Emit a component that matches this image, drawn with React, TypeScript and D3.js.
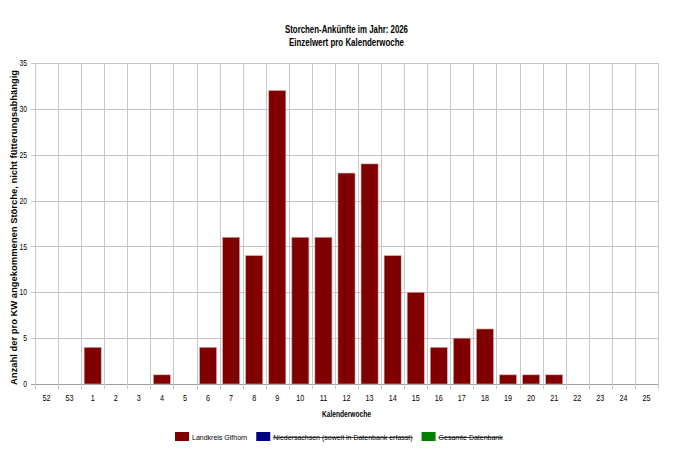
import React, { useEffect, useRef } from 'react';
import * as d3 from 'd3';

const weeks = ['52', '53', '1', '2', '3', '4', '5', '6', '7', '8', '9', '10', '11', '12', '13', '14', '15', '16', '17', '18', '19', '20', '21', '22', '23', '24', '25'];
const gifhorn = [0, 0, 4, 0, 0, 1, 0, 4, 16, 14, 32, 16, 16, 23, 24, 14, 10, 4, 5, 6, 1, 1, 1, 0, 0, 0, 0];
const yTicks = [0, 5, 10, 15, 20, 25, 30, 35];

const legendItems = [
  { label: 'Landkreis Gifhorn', color: '#800000', struck: false },
  { label: 'Niedersachsen (soweit in Datenbank erfasst)', color: '#000080', struck: true },
  { label: 'Gesamte Datenbank', color: '#008000', struck: true }
];

const WIDTH = 674;
const HEIGHT = 456;
const margin = { top: 63, right: 16, bottom: 72, left: 35 };

// the original font is a narrow one, so squeeze text horizontally
const squeeze = (sel: d3.Selection<SVGTextElement, any, any, any>, factor: number) => {
  sel.each(function () {
    const len = this.getComputedTextLength();
    d3.select(this).attr('textLength', len * factor).attr('lengthAdjust', 'spacingAndGlyphs');
  });
};

const App: React.FC = () => {
  const svgRef = useRef<SVGSVGElement>(null);

  useEffect(() => {
    if (!svgRef.current) return;
    const svg = d3.select(svgRef.current);
    svg.selectAll('*').remove();

    const font = '"Liberation Sans", Arial, sans-serif';
    const innerW = WIDTH - margin.left - margin.right;
    const innerH = HEIGHT - margin.top - margin.bottom;

    const x = d3.scaleBand<string>().domain(weeks).range([0, innerW]).paddingInner(0.26).paddingOuter(0.13);
    const y = d3.scaleLinear().domain([0, 35]).range([innerH, 0]);

    const g = svg.append('g').attr('transform', `translate(${margin.left},${margin.top})`);

    // horizontal grid
    g.selectAll('line.hgrid')
      .data(yTicks)
      .enter()
      .append('line')
      .attr('x1', -4)
      .attr('x2', innerW)
      .attr('y1', d => Math.round(y(d)) + 0.5)
      .attr('y2', d => Math.round(y(d)) + 0.5)
      .style('stroke', d => (d === 0 ? '#a0a0a0' : '#c4c4c4'))
      .style('stroke-width', 1);

    // vertical grid at band boundaries
    const bounds = d3.range(weeks.length + 1).map(i => i * innerW / weeks.length);
    g.selectAll('line.vgrid')
      .data(bounds)
      .enter()
      .append('line')
      .attr('x1', d => Math.round(d) + 0.5)
      .attr('x2', d => Math.round(d) + 0.5)
      .attr('y1', 0)
      .attr('y2', innerH + 5)
      .style('stroke', '#c8c8c8')
      .style('stroke-width', 1);

    // bars
    g.selectAll('rect.bar')
      .data(weeks.map((w, i) => ({ w, v: gifhorn[i] })).filter(d => d.v > 0))
      .enter()
      .append('rect')
      .attr('x', d => (x(d.w) || 0))
      .attr('y', d => y(d.v))
      .attr('width', x.bandwidth())
      .attr('height', d => innerH - y(d.v))
      .style('fill', '#800000')
      .style('stroke', '#d8b0b0')
      .style('stroke-width', 0.6);

    // y tick labels
    const yl = g.selectAll<SVGTextElement, number>('text.ytick')
      .data(yTicks)
      .enter()
      .append('text')
      .attr('x', -8)
      .attr('y', d => y(d))
      .attr('dy', '0.35em')
      .attr('text-anchor', 'end')
      .style('font-family', font)
      .style('font-size', '9px')
      .style('fill', '#000')
      .text(d => d);
    squeeze(yl, 0.75);

    // x tick labels
    const xl = g.selectAll<SVGTextElement, string>('text.xtick')
      .data(weeks)
      .enter()
      .append('text')
      .attr('x', d => (x(d) || 0) + x.bandwidth() / 2)
      .attr('y', innerH + 17)
      .attr('text-anchor', 'middle')
      .style('font-family', font)
      .style('font-size', '9px')
      .style('fill', '#000')
      .text(d => d);
    squeeze(xl, 0.8);

    // titles
    const cx = margin.left + innerW / 2;
    svg.append('text')
      .attr('x', cx).attr('y', 33)
      .attr('text-anchor', 'middle')
      .attr('textLength', 123).attr('lengthAdjust', 'spacingAndGlyphs')
      .style('font-family', font).style('font-size', '10px').style('font-weight', 'bold')
      .text('Storchen-Ankünfte im Jahr: 2026');
    svg.append('text')
      .attr('x', cx).attr('y', 46)
      .attr('text-anchor', 'middle')
      .attr('textLength', 115).attr('lengthAdjust', 'spacingAndGlyphs')
      .style('font-family', font).style('font-size', '10px').style('font-weight', 'bold')
      .text('Einzelwert pro Kalenderwoche');

    svg.append('text')
      .attr('x', cx).attr('y', 417)
      .attr('text-anchor', 'middle')
      .attr('textLength', 49).attr('lengthAdjust', 'spacingAndGlyphs')
      .style('font-family', font).style('font-size', '9px').style('font-weight', 'bold')
      .text('Kalenderwoche');

    svg.append('text')
      .attr('transform', 'translate(16.5,227.5) rotate(-90)')
      .attr('text-anchor', 'middle')
      .attr('textLength', 315).attr('lengthAdjust', 'spacingAndGlyphs')
      .style('font-family', font).style('font-size', '9px').style('font-weight', 'bold')
      .text('Anzahl der pro KW angekommenen Störche, nicht fütterungsabhängig');

    // legend
    const legend = svg.append('g').attr('transform', 'translate(175,432)');
    let lx = 0;
    legendItems.forEach(item => {
      legend.append('rect')
        .attr('x', lx).attr('y', 0)
        .attr('width', 14).attr('height', 9)
        .style('fill', item.color);
      const t = legend.append('text')
        .attr('x', lx + 17).attr('y', 7.5)
        .style('font-family', font).style('font-size', '7px')
        .style('text-decoration', item.struck ? 'line-through' : 'none')
        .text(item.label);
      const w = (t.node() as SVGTextElement).getComputedTextLength();
      lx += 17 + w + 9;
    });
  }, []);

  return (
    <div style={{ position: 'fixed', left: 0, top: 0, width: WIDTH, height: HEIGHT, background: '#fff' }}>
      <svg ref={svgRef} width={WIDTH} height={HEIGHT} style={{ display: 'block' }} />
    </div>
  );
};

export default App;
